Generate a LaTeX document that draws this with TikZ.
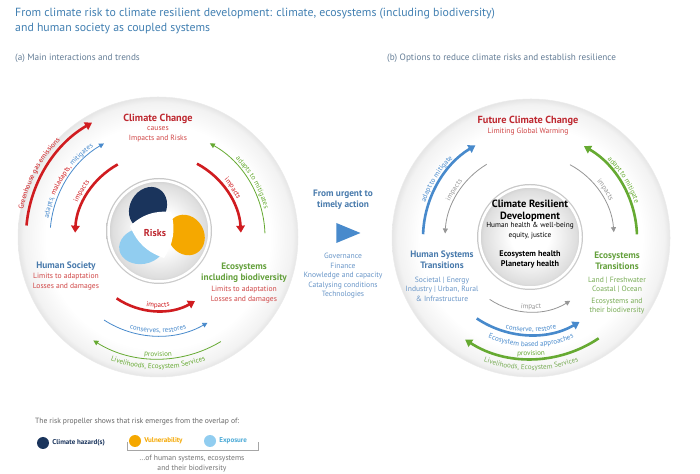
\documentclass[tikz,border=0pt]{standalone}
\usepackage{fontspec}
\setmainfont{PT Sans}
\usetikzlibrary{
  arrows.meta,decorations.text,shapes.geometric,positioning
}

\definecolor{titleblue}{RGB}{66,128,178}
\definecolor{subgray}{RGB}{100,125,150}
\definecolor{ccred}{RGB}{208,28,32}
\definecolor{txtred}{RGB}{190,40,48}
\definecolor{lightred}{RGB}{208,70,70}
\definecolor{arrblue}{RGB}{72,138,204}
\definecolor{txtblue}{RGB}{72,122,172}
\definecolor{lightblue}{RGB}{105,150,200}
\definecolor{arrgreen}{RGB}{102,170,50}
\definecolor{txtgreen}{RGB}{100,160,60}
\definecolor{lightgreen}{RGB}{120,172,85}
\definecolor{arrgray}{RGB}{150,150,150}
\definecolor{hazard}{RGB}{26,52,92}
\definecolor{vulner}{RGB}{245,168,0}
\definecolor{expos}{RGB}{145,205,240}
\definecolor{exptxt}{RGB}{75,170,215}

\newcommand\arcfont{\fontsize{7.1}{8}\selectfont}

\pgfdeclareradialshading{bigdisc}{\pgfpoint{0bp}{0bp}}{color(0bp)=(white); color(20bp)=(white); color(24bp)=(black!5); color(25bp)=(black!10); color(50bp)=(black!10)}
\pgfdeclareradialshading{smalldisc}{\pgfpoint{0bp}{0bp}}{color(0bp)=(white); color(9bp)=(white); color(22bp)=(black!13); color(25bp)=(black!22); color(50bp)=(black!22)}

\begin{document}
\begin{tikzpicture}[x=1pt,y=1pt,
  thickarr/.style={line width=2.6pt,-{Triangle[length=7pt,width=8.5pt]}},
  thinarr/.style={line width=0.8pt,-{Triangle[length=5pt,width=5pt]}},
  arctext/.style={decorate,decoration={text along path,text align=center,text={#1}}},
  bighead/.style={font=\fontsize{10.3}{12}\selectfont\bfseries,align=center,inner sep=0pt},
  head/.style={font=\fontsize{9.3}{11}\selectfont\bfseries,align=center,inner sep=0pt},
  small/.style={font=\fontsize{7.6}{9.5}\selectfont,align=center,inner sep=0pt},
  dot/.style={circle,minimum size=12pt,inner sep=0pt}]

\useasboundingbox (0,0) rectangle (700,473);
\fill[white] (0,0) rectangle (700,473);

% title and subtitles
\node[anchor=north west,align=left,inner sep=0pt,text=titleblue,
  font=\fontsize{11.8}{15}\selectfont] (title) at (15,465)
  {From climate risk to climate resilient development: climate, ecosystems (including biodiversity)\\and human society as coupled systems};
\node[anchor=west,inner sep=0pt,text=subgray,font=\fontsize{9.2}{10}\selectfont] (suba) at (15,415) {(a) Main interactions and trends};
\node[anchor=west,inner sep=0pt,text=subgray,font=\fontsize{9.2}{10}\selectfont] (subb) at (387,415) {(b) Options to reduce climate risks and establish resilience};

\coordinate (L) at (158,236);
\coordinate (P) at (159,242);
\coordinate (R) at (531,235);
\coordinate (Q) at (530,236);

% (a) discs
\shade[shading=bigdisc] (L) circle[radius=140];
\draw[black!8,line width=0.5pt] (L) circle[radius=140];
\shade[shading=smalldisc] (P) circle[radius=53];
\draw[white,line width=2.5pt] (P) circle[radius=50.5];

% risk propeller
\fill[expos,rotate around={10:(142,227)}] (142,227) ellipse[x radius=23,y radius=18];
\fill[vulner,rotate around={-60:(186,238)}] (186,238) ellipse[x radius=21,y radius=18];
\fill[hazard,rotate around={60:(148,265)}] (148,265) ellipse[x radius=22,y radius=18];
\fill[white] (130,247) to[bend right=24] (164,215) to[bend right=24] (171,261) to[bend right=24] cycle;
\node[font=\fontsize{10}{12}\selectfont\bfseries,inner sep=0pt,text=txtred] (risks) at (155,240) {Risks};

% (a) texts
\node[bighead,text=txtred] (cc) at (158,354) {Climate Change};
\node[small,text=lightred] (ccsub) at (158,338.5) {causes\\Impacts and Risks};
\node[head,text=txtblue] (hs) at (66,207) {Human Society};
\node[small,text=lightred] (hslim) at (66,191.5) {Limits to adaptation\\Losses and damages};
\node[head,text=txtgreen] (es) at (244,200.5) {Ecosystems\\including biodiversity};
\node[small,text=lightred] (eslim) at (244,178.5) {Limits to adaptation\\Losses and damages};

% (a) arrows
\draw[thickarr,ccred] ([shift={(175:132)}]L) arc[start angle=175,end angle=120,radius=132];
\path[arctext={|\arcfont\color{ccred}|Greenhouse gas emissions}] ([shift={(182:137.5)}]L) arc[start angle=182,end angle=122,radius=137.5];
\draw[thinarr,arrblue] ([shift={(175:108)}]L) arc[start angle=175,end angle=120,radius=108];
\path[arctext={|\arcfont\color{arrblue}|adapts, |\arcfont\color{ccred}|maladapts,|\arcfont\color{arrblue}| mitigates}] ([shift={(184:111)}]L) arc[start angle=184,end angle=112,radius=111];
\draw[thickarr,ccred] ([shift={(119:83)}]L) arc[start angle=119,end angle=177,radius=83];
\path[arctext={|\arcfont\color{ccred}|impacts}] ([shift={(167:87.5)}]L) arc[start angle=167,end angle=131,radius=87.5];
\draw[thinarr,arrgreen] ([shift={(2:107)}]L) arc[start angle=2,end angle=61,radius=107];
\path[arctext={|\arcfont\color{arrgreen}|adapts to mitigates}] ([shift={(64:110)}]L) arc[start angle=64,end angle=-4,radius=110];
\draw[thickarr,ccred] ([shift={(62:83)}]L) arc[start angle=62,end angle=3,radius=83];
\path[arctext={|\arcfont\color{ccred}|impacts}] ([shift={(52:87.5)}]L) arc[start angle=52,end angle=14,radius=87.5];
\draw[thickarr,ccred] ([shift={(236:74)}]L) arc[start angle=236,end angle=300,radius=74];
\path[arctext={|\arcfont\color{ccred}|impacts}] ([shift={(245:70.5)}]L) arc[start angle=245,end angle=295,radius=70.5];
\draw[thinarr,arrblue] ([shift={(237:99)}]L) arc[start angle=237,end angle=300,radius=99];
\path[arctext={|\arcfont\color{arrblue}|conserves, restores}] ([shift={(232:96)}]L) arc[start angle=232,end angle=308,radius=96];
\draw[thinarr,arrgreen] ([shift={(301:122)}]L) arc[start angle=301,end angle=238,radius=122];
\path[arctext={|\arcfont\color{arrgreen}|provision}] ([shift={(253:119.5)}]L) arc[start angle=253,end angle=287,radius=119.5];
\path[arctext={|\arcfont\color{arrgreen}|Livelihoods, Ecosystem Services}] ([shift={(225:132)}]L) arc[start angle=225,end angle=315,radius=132];

% middle
\node[head,text=txtblue] (urgent) at (343,273) {From urgent to\\timely action};
\node[isosceles triangle,fill=arrblue,minimum height=17pt,minimum width=20pt,inner sep=0pt] (go) at (343,240) {};
\node[small,text=lightblue] (means) at (343,197) {Governance\\Finance\\Knowledge and capacity\\Catalysing conditions\\Technologies};

% (b) discs
\shade[shading=bigdisc] (R) circle[radius=139];
\draw[black!8,line width=0.5pt] (R) circle[radius=139];
\shade[shading=smalldisc] (Q) circle[radius=53];
\draw[white,line width=2.5pt] (Q) circle[radius=50.5];

% (b) texts
\node[font=\fontsize{10.5}{12}\selectfont\bfseries,align=center,inner sep=0pt] (crd) at (530,262) {Climate Resilient\\Development};
\node[small,font=\fontsize{7.3}{10}\selectfont] (well) at (530,242) {Human health \& well-being\\equity, justice};
\node[small,font=\fontsize{8.2}{10}\selectfont\bfseries] (ehealth) at (530,214) {Ecosystem health\\Planetary health};
\node[bighead,text=txtred] (fcc) at (528,352) {Future Climate Change};
\node[small,text=lightred] (fccsub) at (528,341.5) {Limiting Global Warming};
\node[head,text=txtblue] (hst) at (442,213.5) {Human Systems\\Transitions};
\node[small,text=lightblue] (hstsub) at (442,184) {Societal | Energy\\Industry | Urban, Rural\\\& Infrastructure};
\node[head,text=txtgreen] (est) at (617,212) {Ecosystems\\Transitions};
\node[small,text=lightgreen] (estsub) at (617,188) {Land | Freshwater\\Coastal | Ocean};
\node[small,text=lightgreen] (estbio) at (617,167) {Ecosystems and\\their biodiversity};

% (b) arrows
\draw[thickarr,arrblue] ([shift={(178:108)}]R) arc[start angle=178,end angle=121,radius=108];
\path[arctext={|\arcfont\color{arrblue}|adapt to mitigate}] ([shift={(180:111.5)}]R) arc[start angle=180,end angle=116,radius=111.5];
\draw[thinarr,arrgray] ([shift={(121:86)}]R) arc[start angle=121,end angle=177,radius=86];
\path[arctext={|\arcfont\color{arrgray}|impacts}] ([shift={(167:89)}]R) arc[start angle=167,end angle=129,radius=89];
\draw[thickarr,arrgreen] ([shift={(2:106)}]R) arc[start angle=2,end angle=60,radius=106];
\path[arctext={|\arcfont\color{arrgreen}|adapt to mitigate}] ([shift={(64:109.5)}]R) arc[start angle=64,end angle=0,radius=109.5];
\draw[thinarr,arrgray] ([shift={(62:83)}]R) arc[start angle=62,end angle=4,radius=83];
\path[arctext={|\arcfont\color{arrgray}|impacts}] ([shift={(52:87)}]R) arc[start angle=52,end angle=14,radius=87];
\draw[thinarr,arrgray] ([shift={(236:74)}]R) arc[start angle=236,end angle=302,radius=74];
\path[arctext={|\arcfont\color{arrgray}|impact}] ([shift={(248:71)}]R) arc[start angle=248,end angle=292,radius=71];
\draw[thickarr,arrblue] ([shift={(236:97)}]R) arc[start angle=236,end angle=300,radius=97];
\path[arctext={|\arcfont\color{arrblue}|conserve, restore}] ([shift={(237:94)}]R) arc[start angle=237,end angle=303,radius=94];
\path[arctext={|\arcfont\color{arrblue}|Ecosystem based approaches}] ([shift={(222:108.5)}]R) arc[start angle=222,end angle=318,radius=108.5];
\draw[thickarr,arrgreen] ([shift={(304:121)}]R) arc[start angle=304,end angle=237,radius=121];
\path[arctext={|\arcfont\color{arrgreen}|provision}] ([shift={(253:118)}]R) arc[start angle=253,end angle=287,radius=118];
\path[arctext={|\arcfont\color{lightgreen}|Livelihoods, Ecosystem Services}] ([shift={(225:132)}]R) arc[start angle=225,end angle=315,radius=132];

% legend
\node[anchor=west,inner sep=0pt,text=black!60,font=\fontsize{7.6}{9}\selectfont] (legend) at (35,51) {The risk propeller shows that risk emerges from the overlap of:};
\node[dot,fill=hazard] (hzd) at (43,30) {};
\node[right=3pt of hzd,inner sep=0pt,text=hazard,font=\fontsize{7}{9}\selectfont\bfseries] (hzdtxt) {Climate hazard(s)};
\node[dot,fill=vulner] (vul) at (135,32) {};
\node[right=3pt of vul,inner sep=0pt,text=vulner,font=\fontsize{7}{9}\selectfont\bfseries] (vultxt) {Vulnerability};
\node[dot,fill=expos] (expo) at (210,32) {};
\node[right=3pt of expo,inner sep=0pt,text=exptxt,font=\fontsize{7}{9}\selectfont\bfseries] (expotxt) {Exposure};
\draw[black!35,line width=0.6pt] (127,31) -- (127,23) -- (258,23) -- (258,31);
\node[small,text=black!55] (ofsys) at (192,9.5) {...of human systems, ecosystems\\and their biodiversity};
\end{tikzpicture}
\end{document}
